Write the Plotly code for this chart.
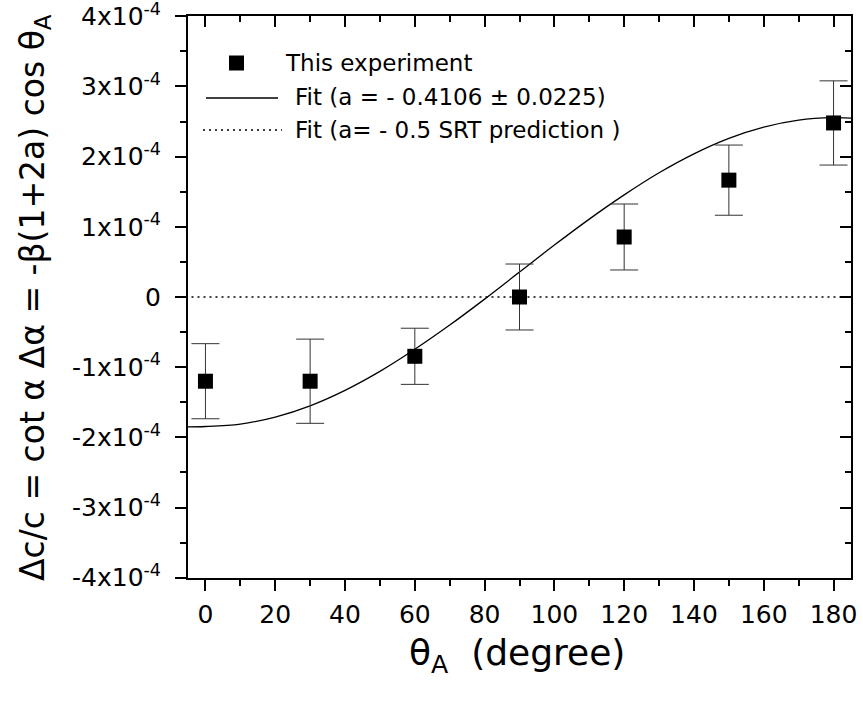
import plotly.graph_objects as go

# ---------------- data ----------------
theta = [0, 30, 60, 90, 120, 150, 180]
dc_over_c = [-1.20e-4, -1.20e-4, -0.845e-4, 0.0, 0.855e-4, 1.665e-4, 2.48e-4]
err = [0.535e-4, 0.60e-4, 0.40e-4, 0.47e-4, 0.47e-4, 0.50e-4, 0.60e-4]

fit_theta = [-5, 0, 10, 20, 30, 40, 50, 60, 70, 80, 90, 100, 110, 120, 130, 140, 150, 160, 170, 180, 185]
fit_vals = [-1.85e-4, -1.845e-4, -1.81e-4, -1.71e-4, -1.55e-4, -1.33e-4, -1.06e-4, -0.745e-4,
            -0.40e-4, -0.03e-4, 0.355e-4, 0.74e-4, 1.11e-4, 1.455e-4, 1.77e-4, 2.04e-4,
            2.26e-4, 2.42e-4, 2.52e-4, 2.555e-4, 2.55e-4]

srt_theta = [-4, 185]
srt_vals = [0.0, 0.0]

x_ticks = [0, 20, 40, 60, 80, 100, 120, 140, 160, 180]
y_ticks = [-4e-4, -3e-4, -2e-4, -1e-4, 0, 1e-4, 2e-4, 3e-4, 4e-4]
y_ticktext = ["-4x10<sup>-4</sup>", "-3x10<sup>-4</sup>", "-2x10<sup>-4</sup>", "-1x10<sup>-4</sup>", "0",
              "1x10<sup>-4</sup>", "2x10<sup>-4</sup>", "3x10<sup>-4</sup>", "4x10<sup>-4</sup>"]

legend_labels = ["This experiment", "Fit (a = - 0.4106 \u00b1 0.0225)", "Fit (a= - 0.5 SRT prediction )"]

# ---------------- layout geometry ----------------
W, H = 863, 701
L, R, T, B = 188, 12, 16, 123
PW, PH = W - L - R, H - T - B
FONT = "DejaVu Sans"


def px(xs):
    return (xs - L) / PW


def py(ys):
    return (H - B - ys) / PH


fig = go.Figure()

fig.add_trace(go.Scatter(
    x=srt_theta, y=srt_vals, mode="lines",
    line=dict(color="black", width=1.5, dash="2px,4px"), showlegend=False, hoverinfo="skip"))

fig.add_trace(go.Scatter(
    x=fit_theta, y=fit_vals, mode="lines", line_shape="spline",
    line=dict(color="black", width=1.3), showlegend=False, hoverinfo="skip"))

fig.add_trace(go.Scatter(
    x=theta, y=dc_over_c, mode="markers",
    marker=dict(symbol="square", size=15, color="black"),
    error_y=dict(type="data", array=err, visible=True, color="#333333", thickness=1, width=14),
    showlegend=False))

# invisible trace to anchor the mirrored axes
fig.add_trace(go.Scatter(x=theta, y=dc_over_c, xaxis="x2", yaxis="y2", mode="markers",
                         marker=dict(opacity=0), showlegend=False, hoverinfo="skip"))

tickfont = dict(family=FONT, size=25, color="black")
xr = [-5, 185]
yr = [-4.004e-4, 4.004e-4]

common = dict(showgrid=False, zeroline=False, showline=True, linewidth=2, linecolor="black",
              ticklen=11, tickwidth=2, tickcolor="black", automargin=False, autorange=False)

fig.update_layout(
    width=W, height=H,
    margin=dict(l=L, r=R, t=T, b=B, autoexpand=False),
    paper_bgcolor="white", plot_bgcolor="white",
    xaxis=dict(range=xr, ticks="outside", tickmode="array", tickvals=x_ticks, tickfont=tickfont,
               ticklabeloverflow="allow", ticklabelstandoff=2,
               minor=dict(tickmode="linear", tick0=0, dtick=10, ticks="outside", ticklen=6, tickwidth=2,
                          tickcolor="black"), **common),
    xaxis2=dict(range=xr, overlaying="x", side="top", anchor="y", ticks="inside",
                tickmode="array", tickvals=x_ticks, showticklabels=False,
                minor=dict(tickmode="linear", tick0=0, dtick=10, ticks="inside", ticklen=6, tickwidth=2,
                           tickcolor="black"), **common),
    yaxis=dict(range=yr, ticks="outside", tickmode="array", tickvals=y_ticks, ticktext=y_ticktext,
               tickfont=tickfont, ticklabeloverflow="allow", ticklabelstandoff=9,
               minor=dict(tickmode="linear", tick0=0, dtick=0.5e-4, ticks="outside", ticklen=6, tickwidth=2,
                          tickcolor="black"), **common),
    yaxis2=dict(range=yr, overlaying="y", side="right", anchor="x", ticks="inside",
                tickmode="array", tickvals=y_ticks, showticklabels=False,
                minor=dict(tickmode="linear", tick0=0, dtick=0.5e-4, ticks="inside", ticklen=6, tickwidth=2,
                           tickcolor="black"), **common),
    showlegend=False,
)

# axis titles
fig.add_annotation(xref="paper", yref="paper", x=px(517), y=py(655), xanchor="center", yanchor="middle",
                   text="\u03b8<sub>A</sub>\u00a0\u00a0(degree)", showarrow=False,
                   font=dict(family=FONT, size=36, color="black"))
fig.add_annotation(xref="paper", yref="paper", x=px(34), y=py(298), xanchor="center", yanchor="middle",
                   text="\u0394c/c = cot \u03b1 \u0394\u03b1 = -\u03b2(1+2a) cos \u03b8<sub>A</sub>",
                   textangle=-90, showarrow=False,
                   font=dict(family=FONT, size=33, color="black"))

# custom legend
legfont = dict(family=FONT, size=23, color="black")
fig.add_shape(type="rect", xref="paper", yref="paper", x0=px(229), x1=px(244), y0=py(70.5), y1=py(55.5),
              fillcolor="black", line=dict(width=0))
fig.add_shape(type="line", xref="paper", yref="paper", x0=px(206), x1=px(278), y0=py(98), y1=py(98),
              line=dict(color="black", width=1.3))
fig.add_shape(type="line", xref="paper", yref="paper", x0=px(203), x1=px(282), y0=py(130), y1=py(130),
              line=dict(color="black", width=1.5, dash="2px,4px"))
for label, xp, yp in zip(legend_labels, [283, 293, 293], [63, 97, 130]):
    fig.add_annotation(xref="paper", yref="paper", x=px(xp), y=py(yp), xanchor="left", yanchor="middle",
                       text=label, showarrow=False, font=legfont)

# remove the browser's default body margin so the figure fills the 863x701 window exactly
fig.write_html("out.html", config={"displayModeBar": False},
               post_script="document.body.style.margin='0';")
